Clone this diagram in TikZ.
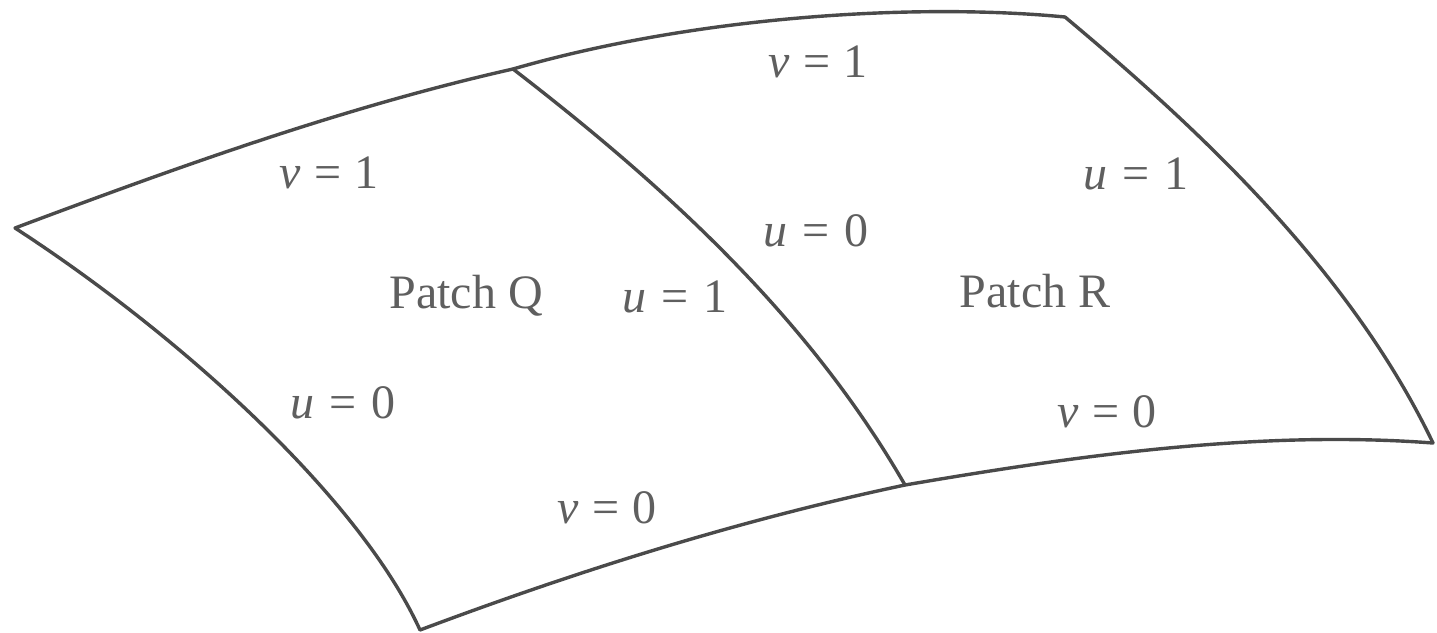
\documentclass[tikz,border=0pt]{standalone}
\usepackage{fontspec}
\setmainfont{Liberation Serif}
\definecolor{ln}{HTML}{4A4A4A}
\definecolor{tx}{HTML}{5F5F5F}
\tikzset{edge/.style={draw=ln,line width=3.4pt,line cap=round,line join=round},
lab/.style={text=tx,font=\fontsize{48}{52}\selectfont,inner sep=0pt,anchor=center}}
\newcommand{\eqnv}[1]{\textit{v}\kern1pt{} = \kern1pt{}#1}
\newcommand{\eqnu}[1]{\textit{u}\kern3pt{} = \kern3pt{}#1}
\begin{document}
\begin{tikzpicture}[x=1pt,y=-1pt]
\useasboundingbox (0,0) rectangle (1437,632);
\coordinate (a) at (15,228);
\coordinate (b) at (513,69);
\coordinate (c) at (1065,17);
\coordinate (d) at (1433,443);
\coordinate (e) at (905,485);
\coordinate (f) at (420,630);
\draw[edge] (a) .. controls (170,170) and (340,108) .. (b)
 .. controls (700,15) and (920,3) .. (c)
 .. controls (1200,130) and (1350,270) .. (d)
 .. controls (1260,430) and (1080,455) .. (e)
 .. controls (740,520) and (580,570) .. (f)
 .. controls (360,498) and (180,335) .. (a) -- cycle;
\draw[edge] (b) .. controls (670,190) and (810,320) .. (e);
\node[lab] (v1) at (818,62) {\eqnv{1}};
\node[lab] (v2) at (329,173) {\eqnv{1}};
\node[lab] (u1) at (1136,174) {\eqnu{1}};
\node[lab] (u2) at (816,231) {\eqnu{0}};
\node[lab] (pq) at (466,296) {Patch Q};
\node[lab] (u3) at (675,297) {\eqnu{1}};
\node[lab] (pr) at (1035,291) {Patch R};
\node[lab] (u4) at (343,403) {\eqnu{0}};
\node[lab] (v3) at (1107,412) {\eqnv{0}};
\node[lab] (v4) at (607,508) {\eqnv{0}};
\end{tikzpicture}
\end{document}
